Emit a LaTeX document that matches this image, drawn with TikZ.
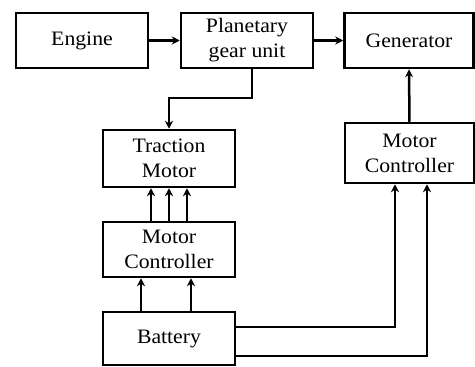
\documentclass[tikz,border=0pt]{standalone}
\usepackage{fontspec}
\setmainfont{Liberation Serif}[FakeStretch=1.06]
\usetikzlibrary{arrows.meta}
\begin{document}
\begin{tikzpicture}[x=1pt,y=-1pt,
  blk/.style={draw,line width=2.5pt,rectangle,inner sep=0pt,align=center,
    font=\fontsize{20.5}{25}\selectfont},
  arr/.style={line width=2.5pt,-{Stealth[length=8pt,width=8pt]}}]
\useasboundingbox (0,0) rectangle (475,367);
\node[blk,minimum width=132pt,minimum height=55pt] (eng) at (82,40.5) {Engine};
\node[blk,minimum width=132pt,minimum height=55pt] (pgu) at (247,40.5) {Planetary\\gear unit};
\node[blk,minimum width=129pt,minimum height=55pt] (gen) at (409,40.5) {Generator};
\node[blk,minimum width=132pt,minimum height=57pt] (tm) at (169,158.5) {Traction\\Motor};
\node[blk,minimum width=132pt,minimum height=55pt] (mcl) at (169,249.5) {Motor\\Controller};
\node[blk,minimum width=132pt,minimum height=53pt] (bat) at (169,338.5) {Battery};
\node[blk,minimum width=129pt,minimum height=60pt] (mcr) at (409.5,153) {Motor\\Controller};
\draw[arr] (eng) -- (pgu);
\draw[arr] (pgu) -- (gen);
\draw[arr] ([xshift=5pt]pgu.south) |- (169,98) -- (tm.north);
\draw[arr] ([xshift=-18pt]mcl.north) -- ([xshift=-18pt]tm.south);
\draw[arr] (mcl.north) -- (tm.south);
\draw[arr] ([xshift=18pt]mcl.north) -- ([xshift=18pt]tm.south);
\draw[arr] ([xshift=-28pt]bat.north) -- ([xshift=-28pt]mcl.south);
\draw[arr] ([xshift=22pt]bat.north) -- ([xshift=22pt]mcl.south);
\draw[arr] (mcr.north) -- (gen.south);
\draw[arr] ([yshift=11.5pt]bat.east) -| ([xshift=-14.5pt]mcr.south);
\draw[arr] ([yshift=-17.5pt]bat.east) -| ([xshift=17.5pt]mcr.south);
\end{tikzpicture}
\end{document}
